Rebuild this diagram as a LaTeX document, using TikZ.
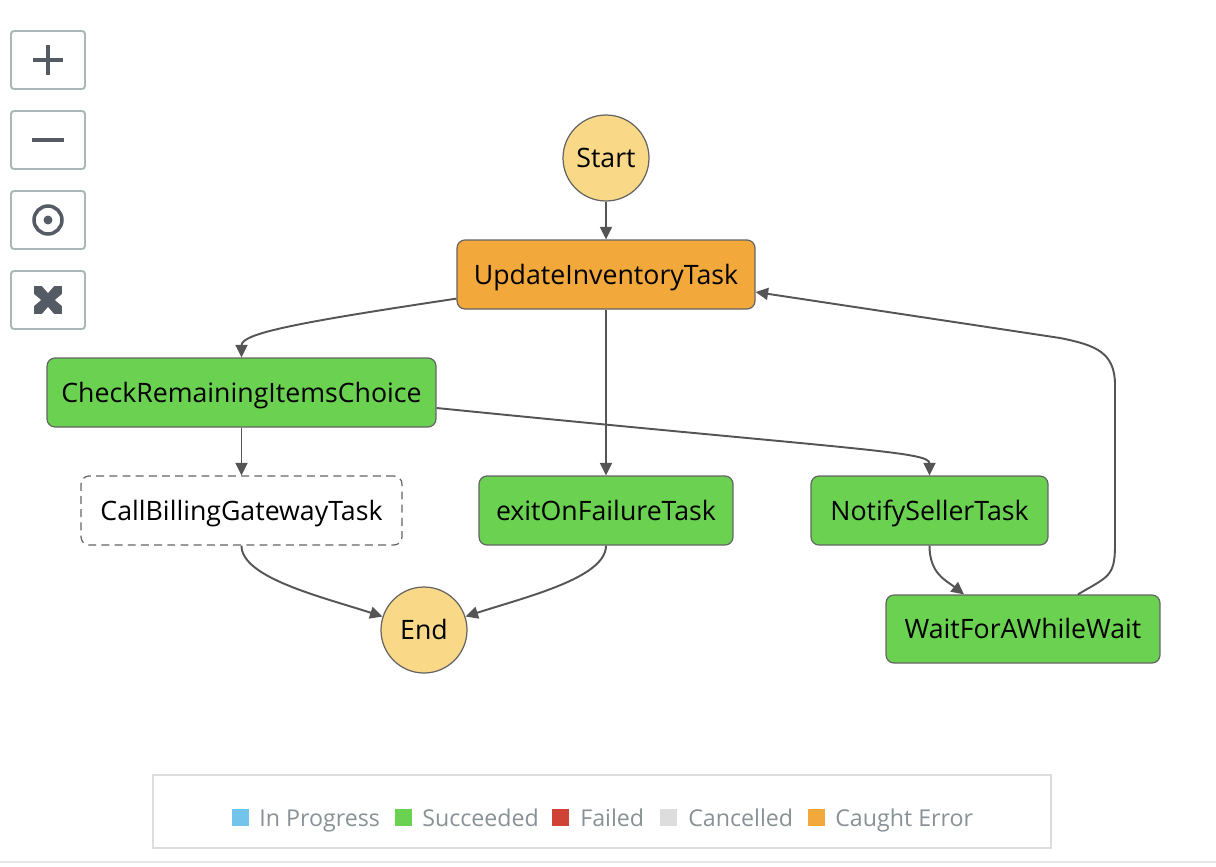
\documentclass[tikz,border=0pt]{standalone}
\usepackage{fontspec}
\setmainfont{Open Sans}
\definecolor{sfgreen}{RGB}{106,210,80}
\definecolor{sforange}{RGB}{242,168,59}
\definecolor{sfyellow}{RGB}{249,217,135}
\definecolor{sfblue}{RGB}{115,196,234}
\definecolor{sfred}{RGB}{208,65,54}
\definecolor{sflight}{RGB}{221,221,221}
\definecolor{sfedge}{RGB}{100,100,100}
\definecolor{sfarrow}{RGB}{85,85,85}
\definecolor{sftext}{RGB}{135,145,150}
\definecolor{sfbtn}{RGB}{170,183,184}
\definecolor{sficon}{RGB}{84,91,100}
\usetikzlibrary{arrows.meta,positioning,calc}

\begin{document}
\begin{tikzpicture}[x=0.02cm, y=-0.02cm,
  task/.style={draw=sfedge, line width=0.7pt, rounded corners=0.16cm, minimum height=1.38cm,
    inner sep=0pt, text height=10.9pt, text depth=0pt, font=\fontsize{15.2}{17}\selectfont},
  succ/.style={task, fill=sfgreen},
  caught/.style={task, fill=sforange},
  skipped/.style={task, fill=white, dash pattern=on 4.5pt off 3pt},
  term/.style={circle, draw=sfedge, line width=0.7pt, fill=sfyellow, minimum size=1.72cm,
    inner sep=0pt, text height=10.9pt, text depth=0pt, font=\fontsize{15.2}{17}\selectfont},
  flow/.style={draw=sfarrow, line width=1.1pt, -{Triangle[length=0.25cm,width=0.24cm]}},
  btn/.style={draw=sfbtn, line width=1.1pt, rounded corners=0.06cm},
  swatch/.style={minimum size=0.34cm, inner sep=0pt},
  legtext/.style={anchor=base west, text=sftext, inner sep=0pt, font=\fontsize{13.2}{15}\selectfont}]
  \useasboundingbox (0,0) rectangle (1216,866);
  % Zoom buttons
  \draw[btn] (11,31) rectangle (85,89);
  \draw[btn] (11,111) rectangle (85,169);
  \draw[btn] (11,191) rectangle (85,249);
  \draw[btn] (11,271) rectangle (85,329);
  \draw[sficon, line width=2.2pt] (33,60) -- (63,60) (48,45) -- (48,75);
  \draw[sficon, line width=2.2pt] (32,140) -- (64,140);
  \draw[sficon, line width=2pt] (48,220) circle [radius=0.28cm];
  \fill[sficon] (48,220) circle [radius=0.09cm];
  \fill[sficon] (34,286) rectangle (62,314);
  \fill[white] (42,286) -- (54,286) -- (48,293) -- cycle
    (42,314) -- (54,314) -- (48,307) -- cycle
    (34,294) -- (34,306) -- (41,300) -- cycle
    (62,294) -- (62,306) -- (55,300) -- cycle;
  % States
  \node[term] (start) at (606,158) {Start};
  \node[caught, minimum width=5.96cm] (upd) at (606,274.5) {UpdateInventoryTask};
  \node[succ, minimum width=7.78cm] (chk) at (241.5,392.5) {CheckRemainingItemsChoice};
  \node[skipped, minimum width=6.42cm] (bill) at (241.5,510.5) {CallBillingGatewayTask};
  \node[succ, minimum width=5.08cm] (exit) at (606,510.5) {exitOnFailureTask};
  \node[succ, minimum width=4.74cm] (notify) at (929.5,510.5) {NotifySellerTask};
  \node[succ, minimum width=5.48cm, minimum height=1.36cm] (wait) at (1023,629) {WaitForAWhileWait};
  \node[term] (end) at (424,630) {End};
  % Transitions
  \draw[flow] (start) -- (upd);
  \draw[flow] (upd) -- (exit);
  \draw[flow] (chk) -- (bill);
  \draw[flow] ([yshift=0.22cm]upd.south west) .. controls +(-160,24) and +(0,-24) .. (chk.north);
  \draw[flow] ([yshift=-0.31cm]chk.east) .. controls +(420,42) and +(0,-24) .. (notify.north);
  \draw[flow] (bill.south) .. controls +(0,32) and +(-62,-20) .. (end.162);
  \draw[flow] (exit.south) .. controls +(0,32) and +(62,-20) .. (end.18);
  \draw[flow] (notify.south) .. controls +(0,28) and +(-18,-14) .. ([xshift=-1.18cm]wait.north);
  \draw[flow] ([xshift=1.1cm]wait.north) .. controls +(30,-18) and +(0,32) .. (1115,545)
    -- (1115,385) .. controls (1115,352) and (1095,345) .. (1060,338) -- ([yshift=-0.35cm]upd.east);
  % Legend
  \draw[sflight, line width=1pt] (153,775) rectangle (1051,848);
  \draw[sflight!70, line width=1.5pt] (0,862) -- (1216,862);
  \node[swatch, fill=sfblue] (kprog) at (240.5,817.5) {};
  \node[legtext] (tprog) at (259,826) {In Progress};
  \node[swatch, fill=sfgreen] (ksucc) at (403.5,817.5) {};
  \node[legtext] (tsucc) at (422,826) {Succeeded};
  \node[swatch, fill=sfred] (kfail) at (560.5,817.5) {};
  \node[legtext] (tfail) at (580,826) {Failed};
  \node[swatch, fill=sflight] (kcanc) at (668.5,817.5) {};
  \node[legtext] (tcanc) at (688,826) {Cancelled};
  \node[swatch, fill=sforange] (kcaught) at (816.5,817.5) {};
  \node[legtext] (tcaught) at (835,826) {Caught Error};
\end{tikzpicture}
\end{document}
